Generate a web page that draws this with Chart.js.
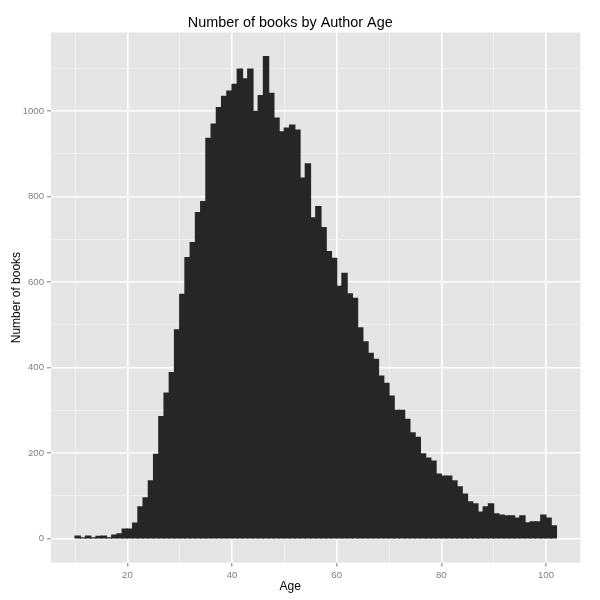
<!DOCTYPE html>
<html lang="en">
<head>
  <meta charset="UTF-8" />
  <title>Number of books by Author Age</title>
  <script src="https://cdn.jsdelivr.net/npm/chart.js"></script>
  <style>
    body { margin: 0; background: #fff; }
  </style>
</head>
<body>
  <canvas id="myChart" width="600" height="600"></canvas>
  <script>
    // left edge of each 1-year bin
    const ages = [
      10, 11, 12, 13, 14, 15, 16, 17, 18, 19,
      20, 21, 22, 23, 24, 25, 26, 27, 28, 29,
      30, 31, 32, 33, 34, 35, 36, 37, 38, 39,
      40, 41, 42, 43, 44, 45, 46, 47, 48, 49,
      50, 51, 52, 53, 54, 55, 56, 57, 58, 59,
      60, 61, 62, 63, 64, 65, 66, 67, 68, 69,
      70, 71, 72, 73, 74, 75, 76, 77, 78, 79,
      80, 81, 82, 83, 84, 85, 86, 87, 88, 89,
      90, 91, 92, 93, 94, 95, 96, 97, 98, 99,
      100, 101
    ];
    const books = [
      6, 2, 6, 2, 5, 6, 2, 8, 11, 22,
      22, 36, 74, 95, 135, 197, 285, 340, 388, 488,
      571, 657, 692, 762, 788, 936, 969, 1008, 1034, 1046,
      1062, 1098, 1075, 1098, 999, 1036, 1127, 1041, 983, 951,
      960, 967, 955, 843, 876, 750, 776, 727, 671, 655,
      590, 620, 572, 562, 493, 460, 433, 419, 380, 363,
      333, 300, 300, 279, 247, 237, 198, 188, 181, 151,
      146, 146, 135, 121, 104, 86, 81, 62, 74, 81,
      58, 55, 53, 53, 48, 53, 37, 39, 39, 55,
      48, 30
    ];
    const xTicks = [10, 20, 30, 40, 50, 60, 70, 80, 90, 100];
    const yTicks = [0, 100, 200, 300, 400, 500, 600, 700, 800, 900, 1000, 1100];

    // ggplot style 5% expansion of the data range
    const binStart = ages[0];
    const binEnd = ages[ages.length - 1] + 1;
    const xPad = (binEnd - binStart) * 0.05;
    const yMax = Math.max(...books);

    const panelBg = {
      id: "panelBg",
      beforeDraw(chart) {
        const { ctx, chartArea: a } = chart;
        ctx.save();
        ctx.fillStyle = "#E5E5E5";
        ctx.fillRect(a.left, a.top, a.right - a.left, a.bottom - a.top);
        ctx.restore();
      }
    };

    const tickFont = { family: "Liberation Sans, Arial, sans-serif", size: 9.6 };
    const isMajorX = (ctx) => ctx.tick && ctx.tick.value % 20 === 0;
    const isMajorY = (ctx) => ctx.tick && ctx.tick.value % 200 === 0;

    const myChart = new Chart(document.getElementById("myChart"), {
      type: "bar",
      data: {
        datasets: [{
          data: ages.map((a, i) => ({ x: a + 0.5, y: books[i] })),
          backgroundColor: "#262626",
          borderWidth: 0,
          inflateAmount: 0.6,
          barPercentage: 1,
          categoryPercentage: 1
        }]
      },
      options: {
        responsive: false,
        animation: false,
        devicePixelRatio: 1,
        layout: { padding: { left: 0, right: 19.5, top: 0, bottom: 0 } },
        plugins: {
          legend: { display: false },
          tooltip: { enabled: false },
          title: {
            display: true,
            text: "Number of books by Author Age",
            color: "#000",
            font: { family: "Liberation Sans, Arial, sans-serif", size: 14.4, weight: "normal" },
            padding: { top: 14.6, bottom: 0.6 }
          },
          subtitle: {
            display: true,
            position: "bottom",
            text: "Age",
            color: "#000",
            font: { family: "Liberation Sans, Arial, sans-serif", size: 12, weight: "normal" },
            padding: { top: 0, bottom: 6 }
          }
        },
        scales: {
          x: {
            type: "linear",
            offset: false,
            min: binStart - xPad,
            max: binEnd + xPad,
            afterBuildTicks: (s) => { s.ticks = xTicks.map((v) => ({ value: v })); },
            afterFit: (s) => { s.height = 16.9; },
            border: { display: false },
            grid: {
              offset: false,
              color: (c) => isMajorX(c) ? "#FFFFFF" : "#F2F2F2",
              lineWidth: (c) => isMajorX(c) ? 1.6 : 0.8,
              tickColor: (c) => isMajorX(c) ? "#7F7F7F" : "rgba(0,0,0,0)",
              tickLength: 4,
              tickWidth: 1
            },
            ticks: {
              color: "#7F7F7F",
              font: tickFont,
              padding: 3,
              maxRotation: 0,
              autoSkip: false,
              callback: (v) => v % 20 === 0 ? v : ""
            }
          },
          y: {
            min: -yMax * 0.05,
            max: yMax * 1.05,
            afterBuildTicks: (s) => { s.ticks = yTicks.map((v) => ({ value: v })); },
            afterFit: (s) => { s.width = 51; },
            border: { display: false },
            grid: {
              color: (c) => isMajorY(c) ? "#FFFFFF" : "#F2F2F2",
              lineWidth: (c) => isMajorY(c) ? 1.6 : 0.8,
              tickColor: (c) => isMajorY(c) ? "#7F7F7F" : "rgba(0,0,0,0)",
              tickLength: 4,
              tickWidth: 1
            },
            ticks: {
              color: "#7F7F7F",
              font: tickFont,
              padding: 3,
              autoSkip: false,
              callback: (v) => v % 200 === 0 ? v : ""
            },
            title: {
              display: true,
              text: "Number of books",
              color: "#000",
              font: { family: "Liberation Sans, Arial, sans-serif", size: 12, weight: "normal" },
              padding: { top: 9, bottom: 0 }
            }
          }
        }
      },
      plugins: [panelBg]
    });
  </script>
</body>
</html>
